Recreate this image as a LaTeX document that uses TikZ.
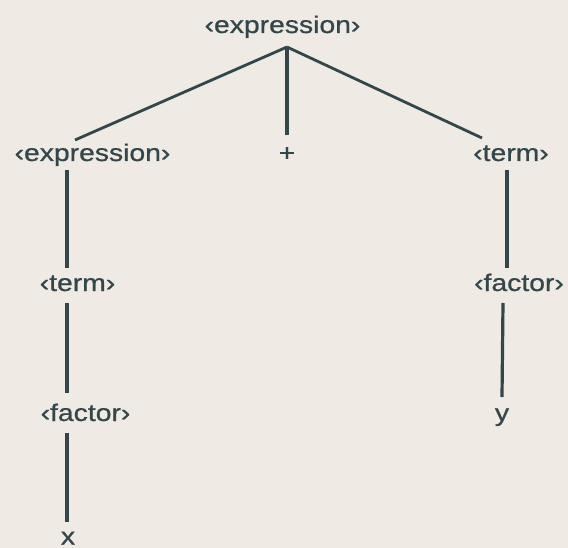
\documentclass[tikz,border=0pt]{standalone}
\usepackage{fontspec}
\setmainfont{Liberation Sans}[FakeStretch=1.18,FakeBold=0.8]
\definecolor{paper}{HTML}{EFEAE4}
\definecolor{ink}{HTML}{33464A}
\begin{document}
\begin{tikzpicture}[x=1pt,y=-1pt,
  lab/.style={anchor=base,inner sep=0pt,text=ink,font=\fontsize{24}{28}\selectfont},
  edge/.style={draw=ink,line width=2.8pt},
  vedge/.style={draw=ink,line width=3.2pt}]
\fill[paper] (0,0) rectangle (568,548);
\useasboundingbox (0,0) rectangle (568,548);
% nodes
\node[lab] (root) at (282.5,33) {‹expression›};
\node[lab] (lexpr) at (92.5,161) {‹expression›};
\node[lab] (plus) at (287,161) {+};
\node[lab] (rterm) at (511,161) {‹term›};
\node[lab] (lterm) at (77.5,291) {‹term›};
\node[lab] (rfactor) at (519,291) {‹factor›};
\node[lab] (lfactor) at (85.5,421) {‹factor›};
\node[lab] (yy) at (502,421) {y};
\node[lab] (xx) at (68,544.5) {x};
% connector ends
\coordinate (apex) at (287,47);
\coordinate (lexprTop) at (75,140);
\coordinate (plusTop) at (287,135);
\coordinate (rtermTop) at (482,138);
\coordinate (lexprBot) at (67,170);
\coordinate (ltermTop) at (67,268);
\coordinate (ltermBot) at (67,303);
\coordinate (lfactorTop) at (67,393);
\coordinate (lfactorBot) at (67,433);
\coordinate (xTop) at (67,522);
\coordinate (rtermBot) at (507,170);
\coordinate (rfactorTop) at (507,268);
\coordinate (rfactorBot) at (503,303);
\coordinate (yTop) at (502,397);
% connectors
\draw[edge] (apex) -- (lexprTop);
\draw[edge] (apex) -- (rtermTop);
\draw[vedge] (apex) -- (plusTop);
\draw[vedge] (lexprBot) -- (ltermTop);
\draw[vedge] (ltermBot) -- (lfactorTop);
\draw[vedge] (lfactorBot) -- (xTop);
\draw[vedge] (rtermBot) -- (rfactorTop);
\draw[vedge] (rfactorBot) -- (yTop);
\end{tikzpicture}
\end{document}
